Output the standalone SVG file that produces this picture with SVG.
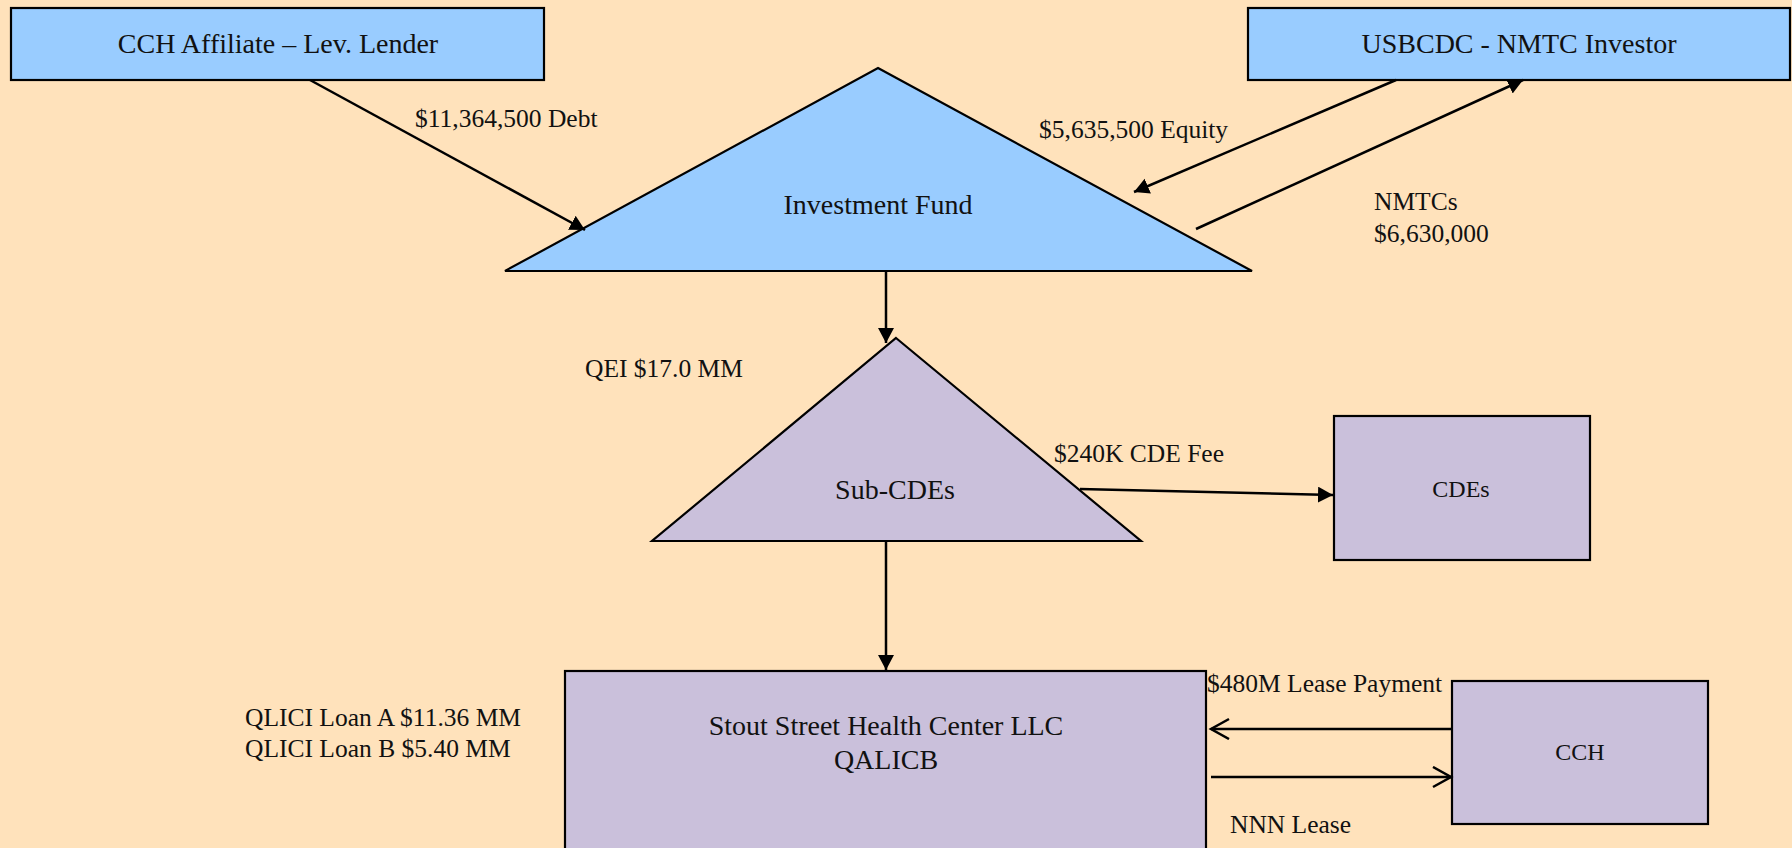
<svg xmlns="http://www.w3.org/2000/svg" width="1792" height="848" viewBox="0 0 1792 848">
<style>
.bg{fill:#FFE2BB}
.blue{fill:#99CCFF;stroke:#000;stroke-width:2.2}
.purple{fill:#CAC0DB;stroke:#000;stroke-width:2.2}
.node{font-family:"Liberation Serif",serif;font-size:28px;fill:#111;text-anchor:middle}
.small{font-family:"Liberation Serif",serif;font-size:24px;fill:#111;text-anchor:middle}
.lbl{font-family:"Liberation Serif",serif;font-size:25.5px;fill:#111}
.ln{stroke:#000;stroke-width:2.5;fill:none}
</style>
<defs>
<marker id="ah" markerUnits="userSpaceOnUse" markerWidth="18" markerHeight="18" refX="15" refY="8" orient="auto">
<path d="M0,0 L15,8 L0,16 z" fill="#000"/>
</marker>
<marker id="oh" markerUnits="userSpaceOnUse" markerWidth="22" markerHeight="24" refX="19" refY="11" orient="auto">
<path d="M1,1 L19,11 L1,21" fill="none" stroke="#000" stroke-width="2.5"/>
</marker>
</defs>
<rect class="bg" x="0" y="0" width="1792" height="848"/>

<g id="cch-affiliate">
<rect class="blue" x="11" y="8" width="533" height="72"/>
<text class="node" x="278" y="53">CCH Affiliate – Lev. Lender</text>
</g>
<g id="usbcdc">
<rect class="blue" x="1248" y="8" width="542" height="72"/>
<text class="node" x="1519" y="53">USBCDC - NMTC Investor</text>
</g>
<g id="investment-fund">
<polygon class="blue" points="878,68 1252,271 505,271"/>
<text class="node" x="878" y="214">Investment Fund</text>
</g>
<g id="sub-cdes">
<polygon class="purple" points="896,338 1141,541 652,541"/>
<text class="node" x="895" y="499">Sub-CDEs</text>
</g>
<g id="cdes">
<rect class="purple" x="1334" y="416" width="256" height="144"/>
<text class="small" x="1461" y="497">CDEs</text>
</g>
<g id="stout">
<rect class="purple" x="565" y="671" width="641" height="200"/>
<text class="node" x="886" y="735">Stout Street Health Center LLC</text>
<text class="node" x="886" y="769">QALICB</text>
</g>
<g id="cch">
<rect class="purple" x="1452" y="681" width="256" height="143"/>
<text class="small" x="1580" y="760">CCH</text>
</g>

<g id="connectors">
<line class="ln" x1="310" y1="80" x2="585" y2="230" marker-end="url(#ah)"/>
<line class="ln" x1="1396" y1="80" x2="1134" y2="192" marker-end="url(#ah)"/>
<line class="ln" x1="1196" y1="229" x2="1523" y2="80" marker-end="url(#ah)"/>
<line class="ln" x1="886" y1="271" x2="886" y2="343" marker-end="url(#ah)"/>
<line class="ln" x1="1080" y1="489" x2="1333" y2="495" marker-end="url(#ah)"/>
<line class="ln" x1="886" y1="542" x2="886" y2="670" marker-end="url(#ah)"/>
<line class="ln" x1="1452" y1="729" x2="1211" y2="729" marker-end="url(#oh)"/>
<line class="ln" x1="1211" y1="777" x2="1451" y2="777" marker-end="url(#oh)"/>
</g>

<g id="labels">
<text class="lbl" x="415" y="127">$11,364,500 Debt</text>
<text class="lbl" x="1039" y="138">$5,635,500 Equity</text>
<text class="lbl" x="1374" y="210">NMTCs</text>
<text class="lbl" x="1374" y="242">$6,630,000</text>
<text class="lbl" x="585" y="377">QEI $17.0 MM</text>
<text class="lbl" x="1054" y="462">$240K CDE Fee</text>
<text class="lbl" x="245" y="726">QLICI Loan A $11.36 MM</text>
<text class="lbl" x="245" y="757">QLICI Loan B $5.40 MM</text>
<text class="lbl" x="1207" y="692">$480M Lease Payment</text>
<text class="lbl" x="1230" y="833">NNN Lease</text>
</g>
</svg>
